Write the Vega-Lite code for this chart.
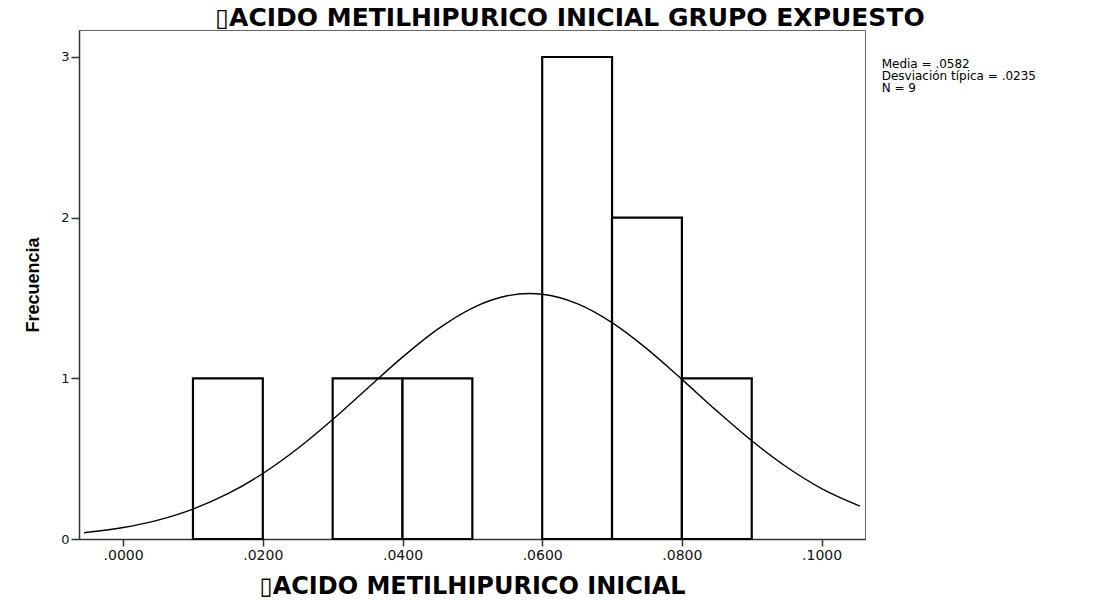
{
  "$schema": "https://vega.github.io/schema/vega-lite/v6.json",
  "width": 786,
  "height": 509,
  "autosize": {"type": "none"},
  "padding": {"left": 79, "top": 30, "right": 244, "bottom": 61},
  "background": "white",
  "config": {
    "view": {"stroke": "#666", "strokeWidth": 1},
    "font": "DejaVu Sans"
  },
  "title": {
    "text": "▯ACIDO METILHIPURICO INICIAL GRUPO EXPUESTO",
    "font": "DejaVu Sans",
    "fontSize": 25,
    "fontWeight": "bold",
    "color": "#000",
    "anchor": "middle",
    "frame": "group",
    "dx": 98,
    "baseline": "bottom",
    "offset": -26
  },
  "datasets": {
    "bins": [
      {"bin_start": 0.01, "bin_end": 0.02, "count": 1},
      {"bin_start": 0.03, "bin_end": 0.04, "count": 1},
      {"bin_start": 0.04, "bin_end": 0.05, "count": 1},
      {"bin_start": 0.06, "bin_end": 0.07, "count": 3},
      {"bin_start": 0.07, "bin_end": 0.08, "count": 2},
      {"bin_start": 0.08, "bin_end": 0.09, "count": 1}
    ],
    "curve": [
      {"x": -0.0056, "y": 0.0387},
      {"x": 0.0, "y": 0.0712},
      {"x": 0.005, "y": 0.1178},
      {"x": 0.01, "y": 0.1864},
      {"x": 0.015, "y": 0.282},
      {"x": 0.02, "y": 0.4077},
      {"x": 0.025, "y": 0.5632},
      {"x": 0.03, "y": 0.7437},
      {"x": 0.035, "y": 0.9386},
      {"x": 0.04, "y": 1.132},
      {"x": 0.045, "y": 1.3049},
      {"x": 0.05, "y": 1.4376},
      {"x": 0.055, "y": 1.5138},
      {"x": 0.0582, "y": 1.5279},
      {"x": 0.06, "y": 1.5234},
      {"x": 0.065, "y": 1.4653},
      {"x": 0.07, "y": 1.3469},
      {"x": 0.075, "y": 1.1834},
      {"x": 0.08, "y": 0.9936},
      {"x": 0.085, "y": 0.7974},
      {"x": 0.09, "y": 0.6116},
      {"x": 0.095, "y": 0.4483},
      {"x": 0.1, "y": 0.3141},
      {"x": 0.1055, "y": 0.2048}
    ],
    "stats": [
      {"x": 0.1086, "y": 2.99, "label": "Media = .0582\nDesviación típica = .0235\nN = 9"}
    ]
  },
  "layer": [
    {
      "data": {"name": "bins"},
      "mark": {"type": "bar", "fill": "white", "stroke": "#000", "strokeWidth": 2.2, "orient": "vertical"},
      "encoding": {
        "x": {
          "field": "bin_start",
          "type": "quantitative",
          "scale": {"domain": [-0.0056, 0.1055], "nice": false, "zero": false},
          "axis": {
            "values": [0, 0.02, 0.04, 0.06, 0.08, 0.1],
            "labelExpr": "replace(format(datum.value, '.4f'), '0.', '.')",
            "title": "▯ACIDO METILHIPURICO INICIAL",
            "titleFont": "DejaVu Sans",
            "titleFontSize": 24,
            "titleFontWeight": "bold",
            "titleColor": "#000",
            "titlePadding": 12,
            "labelFont": "DejaVu Sans",
            "labelFontSize": 14,
            "labelColor": "#111",
            "labelPadding": 2,
            "tickSize": 7,
            "tickColor": "#333",
            "tickWidth": 1.5,
            "domainColor": "#333",
            "domainWidth": 1.5,
            "grid": false
          }
        },
        "x2": {"field": "bin_end"},
        "y": {
          "field": "count",
          "type": "quantitative",
          "scale": {"domain": [0, 3.168], "nice": false},
          "axis": {
            "values": [0, 1, 2, 3],
            "format": "d",
            "title": "Frecuencia",
            "titleFont": "Liberation Sans",
            "titleFontSize": 18,
            "titleFontWeight": "bold",
            "titleColor": "#000",
            "titlePadding": 18,
            "labelFont": "DejaVu Sans",
            "labelFontSize": 13,
            "labelColor": "#111",
            "labelPadding": 2,
            "tickSize": 8,
            "tickColor": "#333",
            "tickWidth": 1.5,
            "domainColor": "#333",
            "domainWidth": 1.5,
            "grid": false
          }
        },
        "y2": {"datum": 0}
      }
    },
    {
      "data": {"name": "curve"},
      "mark": {"type": "line", "color": "#000", "strokeWidth": 1.4, "interpolate": "monotone", "clip": true},
      "encoding": {
        "x": {"field": "x", "type": "quantitative"},
        "y": {"field": "y", "type": "quantitative"}
      }
    },
    {
      "data": {"name": "stats"},
      "mark": {"type": "text", "align": "left", "baseline": "top", "lineBreak": "\n", "font": "DejaVu Sans", "fontSize": 12, "lineHeight": 12, "color": "#000"},
      "encoding": {
        "x": {"field": "x", "type": "quantitative"},
        "y": {"field": "y", "type": "quantitative"},
        "text": {"field": "label"}
      }
    }
  ]
}
